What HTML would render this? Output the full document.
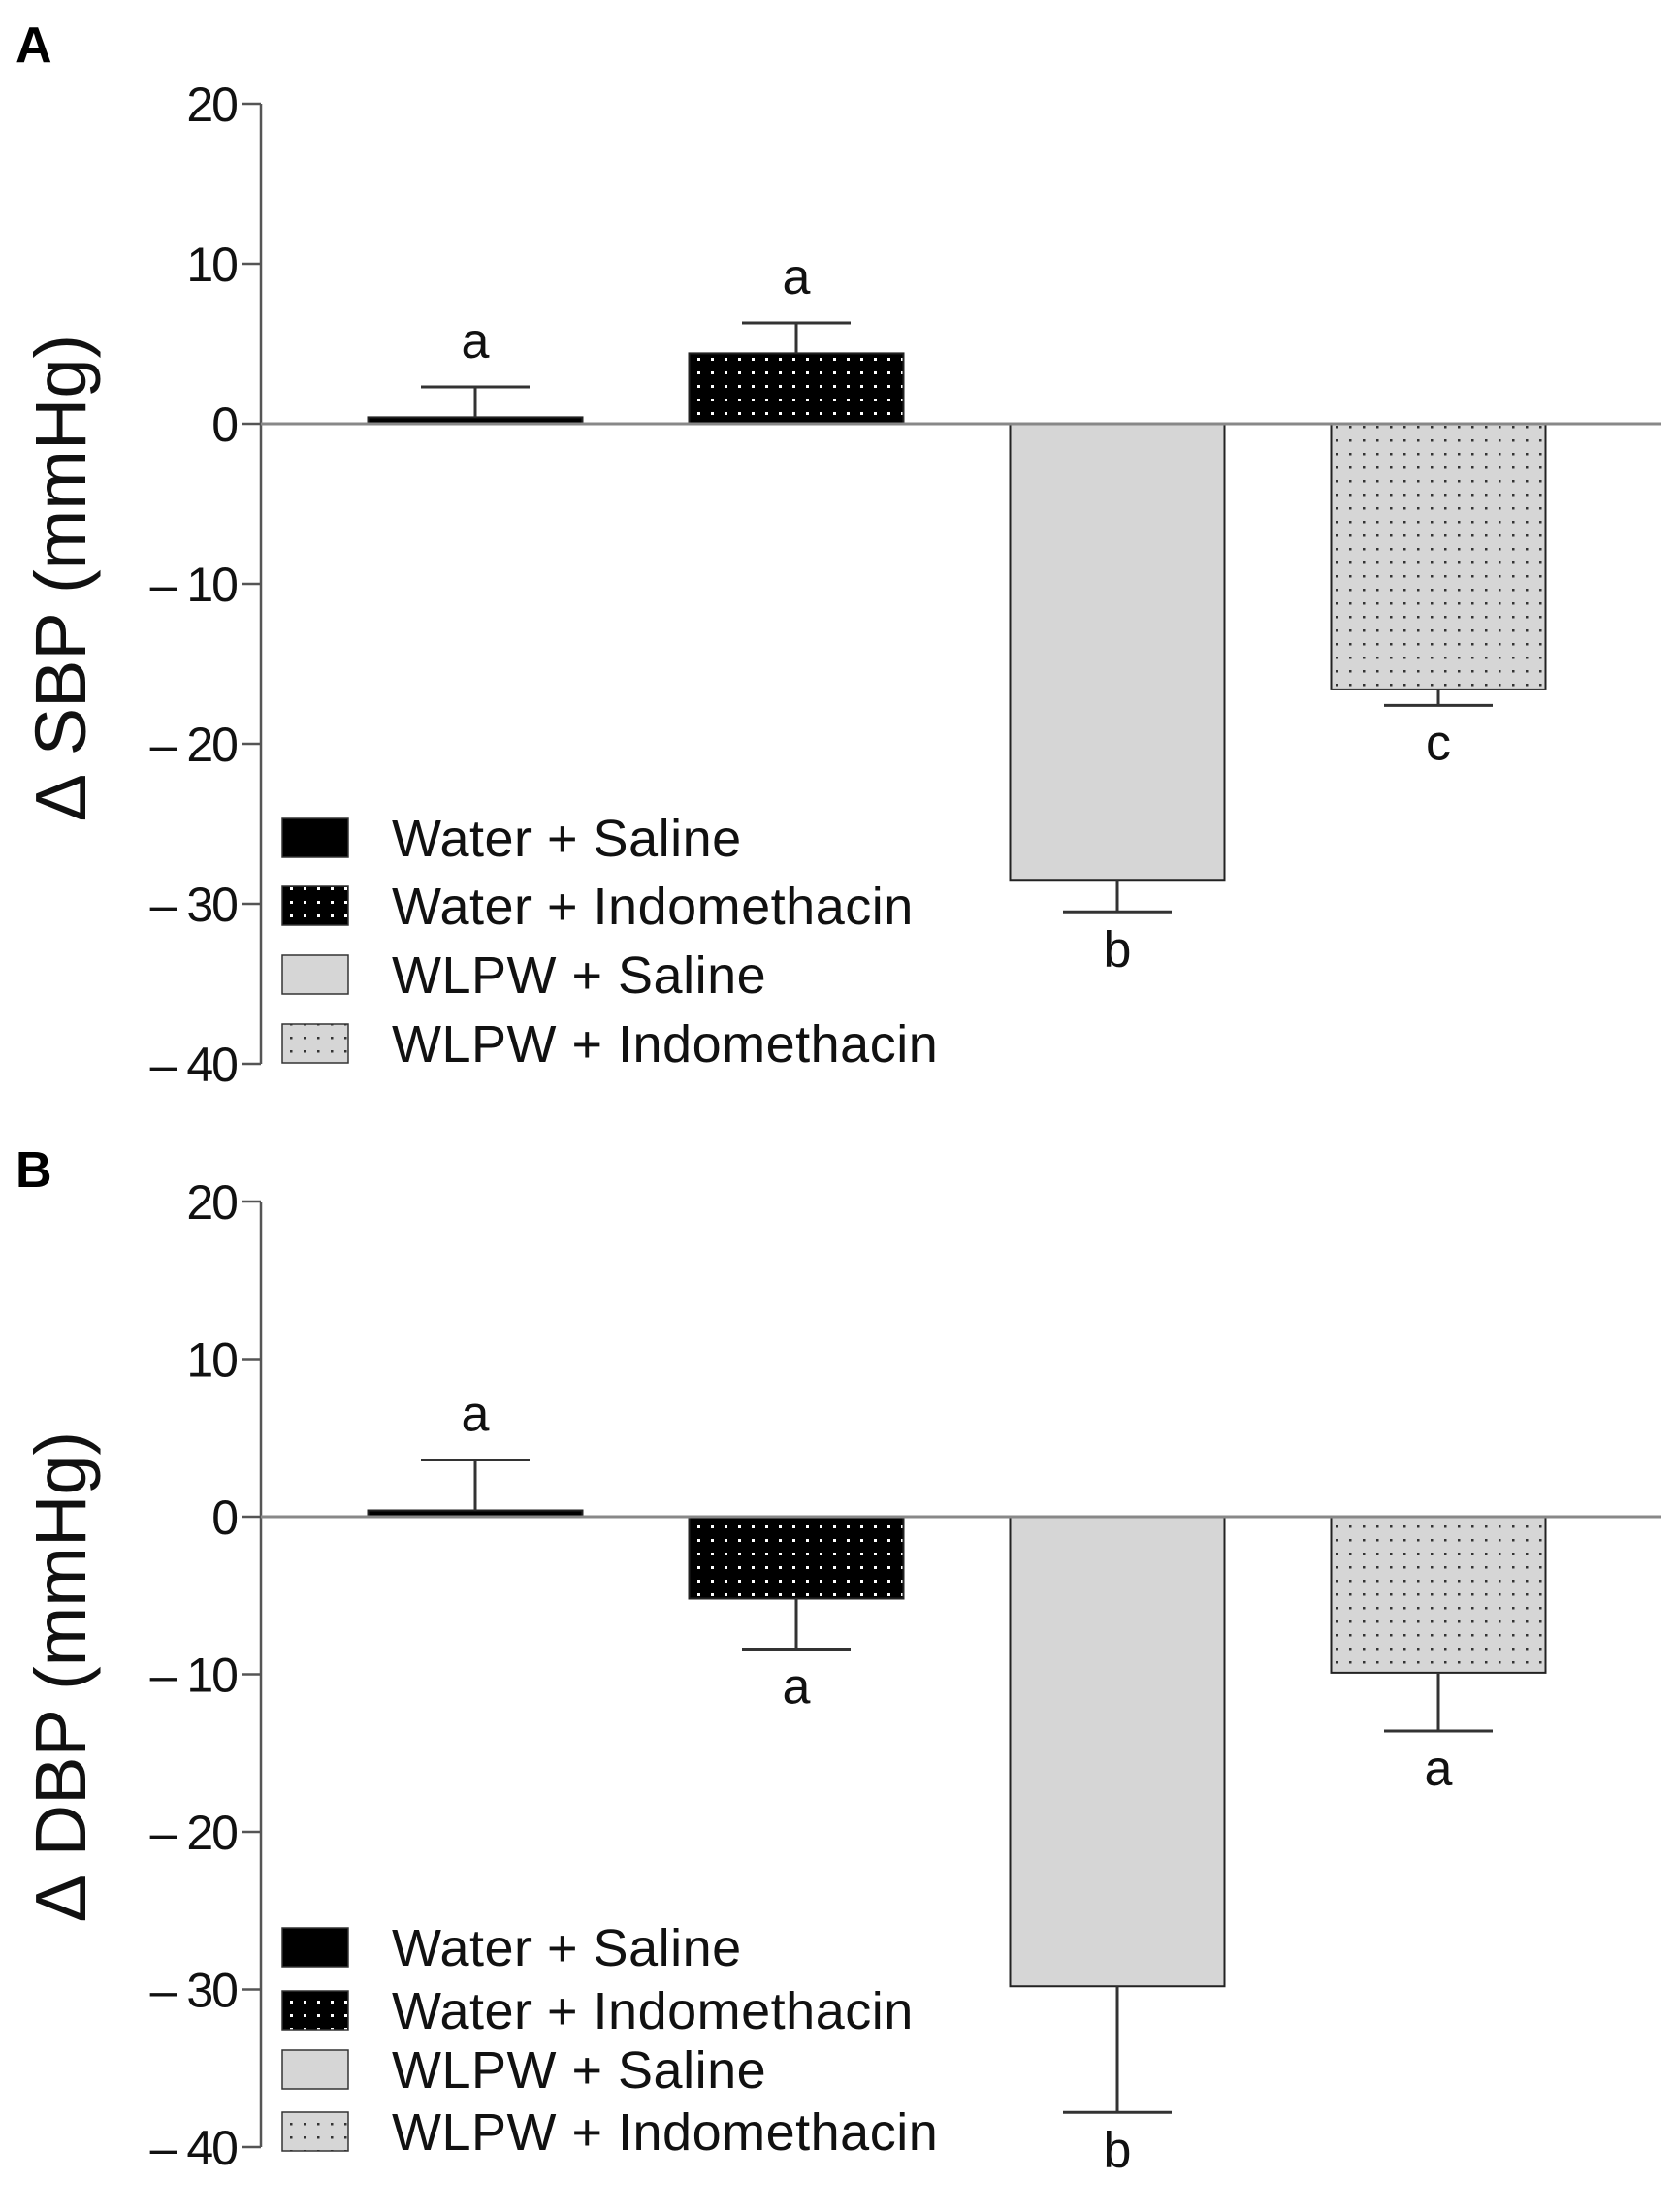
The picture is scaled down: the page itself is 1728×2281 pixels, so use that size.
<!DOCTYPE html>
<html><head><meta charset="utf-8"><style>
html,body{margin:0;padding:0;background:#fff;}
svg{display:block;font-family:"Liberation Sans",Arial,sans-serif;}
</style></head><body>
<svg id="fig" width="1728" height="2281" viewBox="0 0 1728 2281" xmlns="http://www.w3.org/2000/svg">
<defs>
<pattern id="pBlack" width="14" height="14" patternUnits="userSpaceOnUse"><rect width="14" height="14" fill="#000"/><rect x="5" y="5" width="3" height="3" fill="#fff"/></pattern>
<pattern id="pGray" width="14" height="14" patternUnits="userSpaceOnUse"><rect width="14" height="14" fill="#d6d6d6"/><rect x="5" y="5" width="2.5" height="2.5" fill="#333"/></pattern>
</defs>
</svg>
<script>
const groups = ["Water + Saline","Water + Indomethacin","WLPW + Saline","WLPW + Indomethacin"];
const sbpValues = [0.4, 4.4, -28.5, -16.6];
const sbpErrors = [2.3, 6.3, -30.5, -17.6];
const sbpLetters = ["a","a","b","c"];
const dbpValues = [0.4, -5.2, -29.8, -9.9];
const dbpErrors = [3.6, -8.4, -37.8, -13.6];
const dbpLetters = ["a","a","b","a"];
const yTicks = [20, 10, 0, -10, -20, -30, -40];
const yTickLabels = ["20","10","0","– 10","– 20","– 30","– 40"];

const NS = "http://www.w3.org/2000/svg";
const svg = document.getElementById('fig');
const fills = ["#000","url(#pBlack)","#d6d6d6","url(#pGray)"];
function mk(tag, attrs, parent){const e=document.createElementNS(NS,tag);for(const k in attrs)e.setAttribute(k,attrs[k]);(parent||svg).appendChild(e);return e;}

function panel(cfg){
  const g = mk('g',{});
  
  
  const axisX = 269, zeroEnd = 1713;
  const y = v => cfg.y0 - v*(cfg.y0 - cfg.yTop)/20;
  const xc = i => 490 + i*331;
  const bw = 221;
  const pl = mk('text',{x:16,y:cfg.letterY,'font-size':52,'font-weight':'bold',fill:'#000'},g);
  pl.textContent = cfg.letter;
  
  
  const ax = mk('line',{x1:axisX,x2:axisX,y1:y(20),y2:y(-40),stroke:'#555','stroke-width':2.5},g);
  
  
  yTicks.forEach((t,i)=>{
    mk('line',{x1:axisX-20,x2:axisX,y1:y(t),y2:y(t),stroke:'#555','stroke-width':2.5},g);
    const tl = mk('text',{x:axisX-25,y:y(t)+18,'font-size':50,'text-anchor':'end',fill:'#111','letter-spacing':-2},g);
    tl.textContent = yTickLabels[i];
    
    
  });
  const yt = mk('text',{x:0,y:0,'font-size':74,'text-anchor':'middle',fill:'#111',transform:`translate(88,${cfg.titleY}) rotate(-90)`},g);
  yt.textContent = cfg.title;
  
  
  cfg.values.forEach((v,i)=>{
    const top = Math.min(y(v), y(0)), h = Math.max(Math.abs(y(v)-y(0)), 6);
    const b = mk('rect',{x:xc(i)-bw/2,y:(v>=0? y(0)-h : top),width:bw,height:h,fill:fills[i],stroke:'#222','stroke-width':2},g);
    
    
    const e = cfg.errors[i];
    mk('line',{x1:xc(i),x2:xc(i),y1:y(v),y2:y(e),stroke:'#333','stroke-width':3},g);
    mk('line',{x1:xc(i)-56,x2:xc(i)+56,y1:y(e),y2:y(e),stroke:'#333','stroke-width':3},g);
    const ly = e>=0 ? y(e)-30 : y(e)+56;
    const lt = mk('text',{x:xc(i),y:ly,'font-size':52,'text-anchor':'middle',fill:'#111'},g);
    lt.textContent = cfg.letters[i];
    
    
  });
  const zl = mk('line',{x1:axisX,x2:zeroEnd,y1:y(0),y2:y(0),stroke:'#888','stroke-width':3},g);
  
  
  groups.forEach((name,i)=>{
    const ry = cfg.legendY[i];
    const sw = mk('rect',{x:291,y:ry-20,width:68,height:40,fill:fills[i],stroke:'#333','stroke-width':1.5},g);
    
    
    const lt = mk('text',{x:404,y:ry+19,'font-size':54,fill:'#111','letter-spacing':0.5},g);
    lt.textContent = name;
    
    
  });
}
panel({name:'panel-a-sbp',letter:'A',letterY:64,title:'∆ SBP (mmHg)',titleY:595,y0:437,yTop:107,values:sbpValues,errors:sbpErrors,letters:sbpLetters,legendY:[864,934,1005,1076]});
panel({name:'panel-b-dbp',letter:'B',letterY:1224,title:'∆ DBP (mmHg)',titleY:1728,y0:1564,yTop:1239,values:dbpValues,errors:dbpErrors,letters:dbpLetters,legendY:[2008,2073,2134,2198]});
</script>
</body></html>
